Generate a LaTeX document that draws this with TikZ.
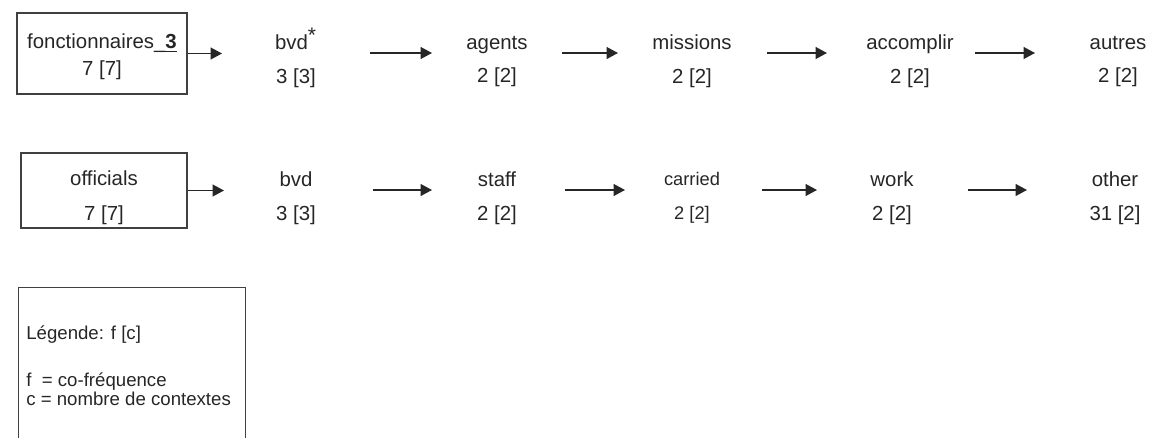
\documentclass[tikz,border=0pt]{standalone}
\usepackage{fontspec}
\setmainfont{Liberation Sans}
\usetikzlibrary{arrows.meta,positioning,calc}

\begin{document}
\begin{tikzpicture}[
  wbox/.style={rectangle, draw=black!75, line width=0.8pt,
               align=center, text=black!85, inner sep=0pt},
  word/.style={align=center, inner sep=0pt, text=black!85,
               font=\fontsize{11.6}{19.3}\selectfont},
  legbox/.style={rectangle, draw=black!75, line width=0.8pt,
               minimum width=4.54cm, minimum height=3.5cm},
  legtext/.style={align=left, inner sep=0pt, text=black!85,
               font=\fontsize{10.6}{9.7}\selectfont},
  arr/.style={-{Triangle[length=0.23cm, width=0.24cm]}, line width=0.8pt, draw=black!85}
]
\useasboundingbox (0,0) rectangle (23.12,-8.74);
\clip (0,0) rectangle (23.12,-8.74);

% French row
\node[wbox, minimum width=3.4cm, minimum height=1.62cm,
      font=\fontsize{11.6}{15.4}\selectfont] (fr0) at (2.04,-1.07)
  {\rule{0pt}{12.4pt}fonctionnaires\_\underline{\textbf{3}}\\7 [7]};
\node[word] (fr1) at ( 5.92,-1.23) {bvd\smash{\textsuperscript{\large *}}\\3 [3]};
\node[word] (fr2) at ( 9.94,-1.23) {agents\\2 [2]};
\node[word] (fr3) at (13.84,-1.23) {missions\\2 [2]};
\node[word] (fr4) at (18.20,-1.23) {accomplir\\2 [2]};
\node[word] (fr5) at (22.36,-1.23) {autres\\2 [2]};

% English row
\node[wbox, minimum width=3.32cm, minimum height=1.5cm,
      font=\fontsize{11.6}{19.9}\selectfont] (en0) at (2.08,-3.81)
  {\rule{0pt}{17pt}officials\\7 [7]};
\node[word] (en1) at ( 5.92,-3.96) {bvd\\3 [3]};
\node[word] (en2) at ( 9.94,-3.96) {staff\\2 [2]};
\node[word, font=\fontsize{10.4}{19.3}\selectfont] (en3) at (13.84,-3.96) {carried\\2 [2]};
\node[word] (en4) at (17.84,-3.96) {work\\2 [2]};
\node[word] (en5) at (22.30,-3.96) {other\\31 [2]};

% Arrows
\draw[arr] (fr0.east) -- ([xshift=-1.48cm]fr0.east -| fr1.center);
\draw[arr] ([xshift=1.48cm,yshift=0.17cm]fr1.center) -- ([xshift=-1.30cm,yshift=0.17cm]fr2.center);
\draw[arr] ([xshift=1.30cm,yshift=0.17cm]fr2.center) -- ([xshift=-1.48cm,yshift=0.17cm]fr3.center);
\draw[arr] ([xshift=1.50cm,yshift=0.17cm]fr3.center) -- ([xshift=-1.66cm,yshift=0.17cm]fr4.center);
\draw[arr] ([xshift=1.30cm,yshift=0.17cm]fr4.center) -- ([xshift=-1.66cm,yshift=0.17cm]fr5.center);

\draw[arr] (en0.east) -- ([xshift=-1.44cm]en0.east -| en1.center);
\draw[arr] ([xshift=1.54cm,yshift=0.16cm]en1.center) -- ([xshift=-1.30cm,yshift=0.16cm]en2.center);
\draw[arr] ([xshift=1.36cm,yshift=0.16cm]en2.center) -- ([xshift=-1.34cm,yshift=0.16cm]en3.center);
\draw[arr] ([xshift=1.40cm,yshift=0.16cm]en3.center) -- ([xshift=-1.50cm,yshift=0.16cm]en4.center);
\draw[arr] ([xshift=1.52cm,yshift=0.16cm]en4.center) -- ([xshift=-1.76cm,yshift=0.16cm]en5.center);

% Legend
\node[legbox, anchor=north west] (legend) at (0.36,-5.74) {};
\node[legtext, anchor=north west] (legtxt) at ([xshift=0.16cm,yshift=-0.76cm]legend.north west)
  {L\'egende: f [c]\\[16pt]f~~= co-fr\'equence\\c = nombre de contextes};
\end{tikzpicture}
\end{document}
